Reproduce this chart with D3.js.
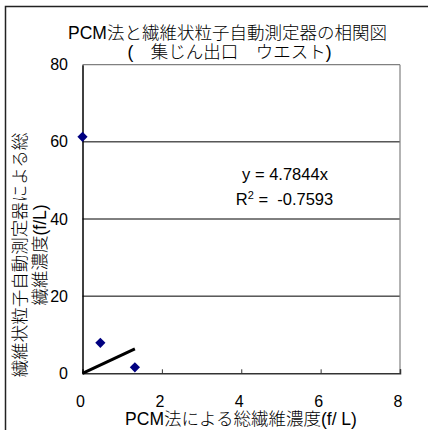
<!DOCTYPE html>
<html>
<head>
<meta charset="utf-8">
<script src="https://cdn.jsdelivr.net/npm/d3@7/dist/d3.min.js"></script>
<style>
  html, body { margin: 0; padding: 0; background: #fff; }
  svg { display: block; }
  text { font-family: "Liberation Sans", Arial, "Noto Sans CJK JP", sans-serif; fill: #000; }
  .cjk { font-weight: 300; }
</style>
</head>
<body>
<script>
// ---- data ----
const titleLines = ["PCM法と繊維状粒子自動測定器の相関図", "(\u3000集じん出口\u3000ウエスト)"];
const xTitle = "PCM法による総繊維濃度(f/ L)";
const yTitleLines = ["繊維状粒子自動測定器による総", "繊維濃度(f/L)"];
const xTicks = [0, 2, 4, 6, 8];
const yTicks = [0, 20, 40, 60, 80];
const pcmValues = [0.0, 0.45, 1.32];
const autoValues = [61.3, 7.9, 1.55];
const trendSlope = 4.7844;
const rSquared = -0.7593;

// ---- layout ----
const W = 428, H = 430;
const plot = { left: 82.5, right: 400, top: 64.7, bottom: 373.3 };

const svg = d3.select("body").append("svg").attr("width", W).attr("height", H);
svg.append("rect").attr("width", W).attr("height", H).attr("fill", "#fff");

// outer chart border
svg.append("rect").attr("x", 5.5).attr("y", 6.5).attr("width", 600).attr("height", 600)
  .attr("fill", "none").attr("stroke", "#222").attr("stroke-width", 1.5);

const x = d3.scaleLinear().domain([0, 8]).range([plot.left, plot.right]);
const y = d3.scaleLinear().domain([0, 80]).range([plot.bottom, plot.top]);

// gridlines
svg.append("g").selectAll("line").data(yTicks.filter(d => d > 0 && d < 80)).join("line")
  .attr("x1", plot.left).attr("x2", plot.right)
  .attr("y1", d => y(d)).attr("y2", d => y(d))
  .attr("stroke", "#000").attr("stroke-width", 1);

// plot frame: top and right gray
svg.append("line").attr("x1", plot.left).attr("x2", plot.right).attr("y1", y(80)).attr("y2", y(80))
  .attr("stroke", "#808080").attr("stroke-width", 1.2);
svg.append("line").attr("x1", plot.right).attr("x2", plot.right).attr("y1", y(80)).attr("y2", y(0))
  .attr("stroke", "#808080").attr("stroke-width", 1.2);

// axes
const xAxis = d3.axisBottom(x).tickValues(xTicks).tickSize(-4).tickFormat("");
const gx = svg.append("g").attr("transform", `translate(0,${plot.bottom})`).call(xAxis);
gx.select(".domain").attr("stroke", "#333").attr("stroke-width", 1.5);
gx.selectAll(".tick line").attr("stroke", "#333").attr("stroke-width", 1);

const yAxis = d3.axisLeft(y).tickValues(yTicks).tickSize(0).tickFormat("");
const gy = svg.append("g").attr("transform", `translate(${plot.left},0)`).call(yAxis);
gy.select(".domain").attr("stroke", "#000").attr("stroke-width", 1.5);

// tick labels
svg.append("g").selectAll("text").data(xTicks).join("text")
  .attr("x", d => x(d) - 2).attr("y", 406.5)
  .attr("text-anchor", "middle").attr("font-size", 16).text(d => d);
svg.append("g").selectAll("text").data(yTicks).join("text")
  .attr("x", 68).attr("y", d => y(d) + 5.5)
  .attr("text-anchor", "end").attr("font-size", 16).text(d => d);

// titles
svg.append("text").attr("class", "cjk").attr("x", 227.5).attr("y", 39).attr("text-anchor", "middle")
  .attr("font-size", 17.5).text(titleLines[0]);
svg.append("text").attr("class", "cjk").attr("x", 229.5).attr("y", 57.5).attr("text-anchor", "middle")
  .attr("font-size", 17.5).text(titleLines[1]);
svg.append("text").attr("class", "cjk").attr("x", 241).attr("y", 424.5).attr("text-anchor", "middle")
  .attr("font-size", 17.5).text(xTitle);
const yt = svg.append("text").attr("class", "cjk").attr("transform", "translate(0,255) rotate(-90)")
  .attr("text-anchor", "middle").attr("font-size", 17.5);
yt.append("tspan").attr("x", 0).attr("y", 25.5).text(yTitleLines[0]);
yt.append("tspan").attr("x", 0).attr("y", 46).text(yTitleLines[1]);

// trendline
const xMax = d3.max(pcmValues);
svg.append("line")
  .attr("x1", x(0)).attr("y1", y(0))
  .attr("x2", x(xMax)).attr("y2", y(trendSlope * xMax))
  .attr("stroke", "#000").attr("stroke-width", 3);

// points
const diamond = d3.symbol().type(d3.symbolSquare).size(52);
svg.append("g").selectAll("path").data(pcmValues.map((v, i) => [v, autoValues[i]])).join("path")
  .attr("d", diamond)
  .attr("transform", d => `translate(${x(d[0])},${y(d[1])}) rotate(45)`)
  .attr("fill", "#000080");

// equation
svg.append("text").attr("x", 285).attr("y", 179.5).attr("text-anchor", "middle")
  .attr("font-size", 16.5).text(`y = ${trendSlope}x`);
const r2 = svg.append("text").attr("x", 284.5).attr("y", 205).attr("text-anchor", "middle")
  .attr("font-size", 16.5).attr("xml:space", "preserve");
r2.append("tspan").text("R");
r2.append("tspan").attr("dy", -6).attr("font-size", 11).text("2");
r2.append("tspan").attr("dy", 6).text(` =  ${rSquared}`);
</script>
</body>
</html>
